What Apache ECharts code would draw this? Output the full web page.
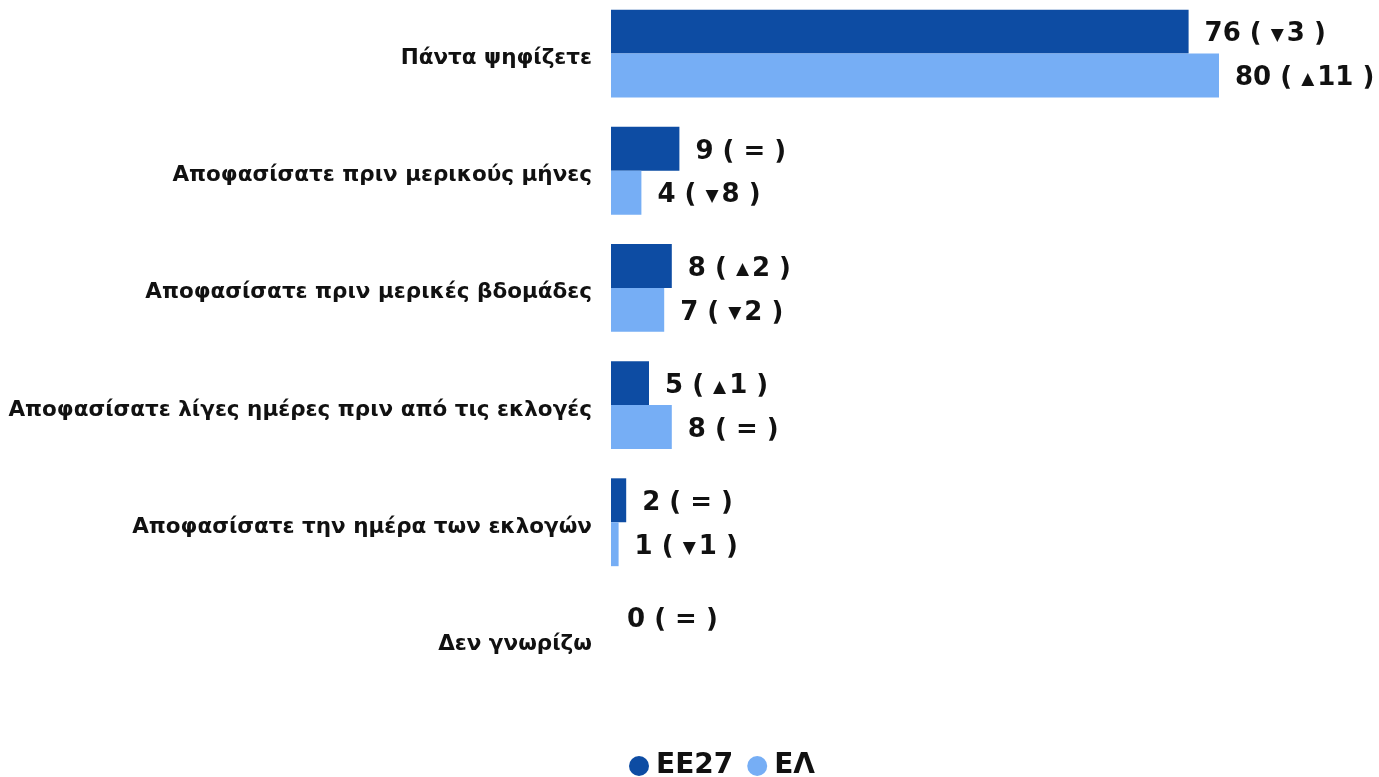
<!DOCTYPE html>
<html>
<head>
<meta charset="utf-8">
<script src="https://cdn.jsdelivr.net/npm/echarts@6/dist/echarts.min.js"></script>
<style>
html, body { margin: 0; padding: 0; background: #fff; overflow: hidden; }
#chart { width: 1379px; height: 782px; margin-top: -5px; }
</style>
</head>
<body>
<div id="chart"></div>
<script>
const categories = [
  'Πάντα ψηφίζετε',
  'Αποφασίσατε πριν μερικούς μήνες',
  'Αποφασίσατε πριν μερικές βδομάδες',
  'Αποφασίσατε λίγες ημέρες πριν από τις εκλογές',
  'Αποφασίσατε την ημέρα των εκλογών',
  'Δεν γνωρίζω'
]
const seriesNames = ['ΕΕ27', 'ΕΛ']
const eu27 = [76, 9, 8, 5, 2, 0]
const el = [80, 4, 7, 8, 1, null]
// change vs previous wave: [direction, amount]
const eu27Diff = [['down', 3], ['eq'], ['up', 2], ['up', 1], ['eq'], ['eq']]
const elDiff = [['up', 11], ['down', 8], ['down', 2], ['eq'], ['down', 1], null]

const colors = ['#0d4ca3', '#76aef5']
const font = 'DejaVu Sans'

function makeLabel(diffs) {
  return function (p) {
    const d = diffs[p.dataIndex]
    if (!d) return ''
    if (d[0] === 'eq') return '{v|' + p.value + ' ( = )}'
    const tri = d[0] === 'up' ? '▲' : '▼'
    return '{v|' + p.value + ' ( }{t|' + tri + '}{v|' + d[1] + ' )}'
  }
}

const labelRich = {
  v: { fontSize: 26, fontWeight: 'bold', color: '#111', fontFamily: font, padding: [6, 0, 0, 0] },
  t: { fontSize: 17, color: '#111', fontFamily: font, padding: [8, 3, 0, 0] }
}

const chart = echarts.init(document.getElementById('chart'))
chart.setOption({
  animation: false,
  grid: { left: 611, right: 8, top: 0, bottom: 79 },
  legend: {
    data: seriesNames,
    bottom: -8,
    left: 624,
    icon: 'circle',
    itemWidth: 24,
    itemHeight: 20,
    itemGap: 14,
    textStyle: { fontSize: 28, fontWeight: 'bold', color: '#111', fontFamily: font }
  },
  xAxis: {
    type: 'value',
    min: 0,
    max: 100,
    show: false
  },
  yAxis: {
    type: 'category',
    data: categories,
    inverse: true,
    axisLine: { show: false },
    axisTick: { show: false },
    axisLabel: {
      margin: 19,
      formatter: v => '{c|' + v + '}',
      rich: {
        c: {
          fontSize: 21.5,
          fontWeight: 'bold',
          color: '#111',
          fontFamily: font,
          padding: [10, 0, 0, 0]
        }
      }
    }
  },
  series: [
    {
      name: seriesNames[0],
      type: 'bar',
      data: eu27,
      barGap: '0%',
      barCategoryGap: '25%',
      itemStyle: { color: colors[0] },
      label: { show: true, position: 'right', distance: 16, formatter: makeLabel(eu27Diff), rich: labelRich }
    },
    {
      name: seriesNames[1],
      type: 'bar',
      data: el,
      itemStyle: { color: colors[1] },
      label: { show: true, position: 'right', distance: 16, formatter: makeLabel(elDiff), rich: labelRich }
    }
  ]
})
</script>
</body>
</html>
